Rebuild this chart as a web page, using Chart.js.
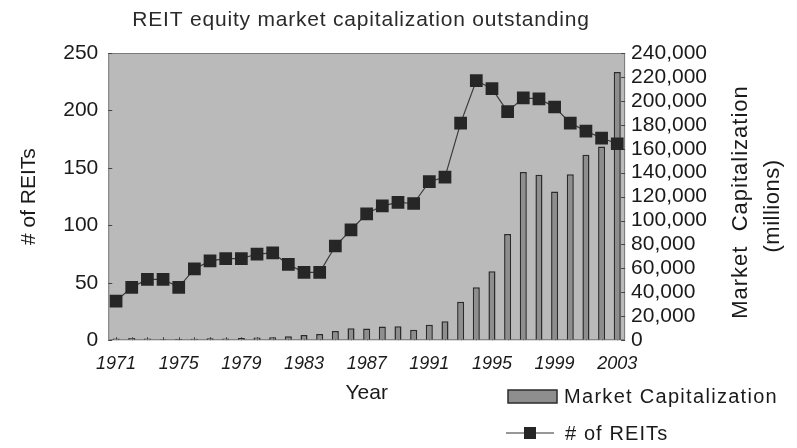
<!DOCTYPE html>
<html>
<head>
<meta charset="utf-8">
<script src="https://cdn.jsdelivr.net/npm/chart.js@4.4.1/dist/chart.umd.min.js"></script>
<style>
  html, body { margin: 0; padding: 0; background: #fff; }
  #wrap { width: 797px; height: 448px; position: relative; }
</style>
</head>
<body>
<div id="wrap"><canvas id="reitChart" width="797" height="448"></canvas></div>
<script>
// REIT equity market capitalization, 1971-2003
const years = [
  '1971', '1972', '1973', '1974', '1975', '1976', '1977', '1978', '1979', '1980', '1981',
  '1982', '1983', '1984', '1985', '1986', '1987', '1988', '1989', '1990', '1991', '1992',
  '1993', '1994', '1995', '1996', '1997', '1998', '1999', '2000', '2001', '2002', '2003'
];
const reitCount = [
  34, 46, 53, 53, 46, 62, 69, 71, 71, 75, 76,
  66, 59, 59, 82, 96, 110, 117, 120, 119, 138, 142,
  189, 226, 219, 199, 211, 210, 203, 189, 182, 176, 171
];
const marketCap = [
  1494, 1881, 1394, 712, 900, 1308, 1528, 1412, 1754, 2299, 2439,
  3299, 4257, 5085, 7674, 9924, 9702, 11435, 11662, 8737, 12968, 15912,
  32159, 44306, 57541, 88776, 140534, 138301, 124262, 138715, 154899, 161937, 224212
];
const leftTicks = [0, 50, 100, 150, 200, 250];
const rightTicks = [0, 20000, 40000, 60000, 80000, 100000, 120000, 140000, 160000, 180000, 200000, 220000, 240000];

const FONT = 'Arial, "Liberation Sans", Helvetica, sans-serif';
const INK = '#1a1a1a';
const BAR_FILL = '#8e8e8e';
const BAR_EDGE = '#2b2b2b';
const MARK = '#262626';

function spacedText(ctx, text, x, y, spacing) {
  // letterSpacing is not in every canvas build, so just skip it if missing
  if ('letterSpacing' in ctx) ctx.letterSpacing = spacing + 'px';
  ctx.fillText(text, x, y);
  if ('letterSpacing' in ctx) ctx.letterSpacing = '0px';
}

const decorPlugin = {
  id: 'decor',
  beforeDatasetsDraw(chart) {
    const { ctx, chartArea: a } = chart;
    ctx.save();
    ctx.fillStyle = '#bababa';
    ctx.fillRect(a.left, a.top, a.right - a.left, a.bottom - a.top);
    ctx.strokeStyle = '#7a7a7a';
    ctx.lineWidth = 1;
    ctx.strokeRect(a.left + 0.5, a.top + 0.5, a.right - a.left - 1, a.bottom - a.top - 1);

    // small inward tick marks on both value axes
    ctx.strokeStyle = '#444';
    const yl = chart.scales.y, yr = chart.scales.y1;
    leftTicks.forEach(v => {
      const py = Math.round(yl.getPixelForValue(v)) + 0.5;
      ctx.beginPath(); ctx.moveTo(a.left, py); ctx.lineTo(a.left + 4, py); ctx.stroke();
    });
    rightTicks.forEach(v => {
      const py = Math.round(yr.getPixelForValue(v)) + 0.5;
      ctx.beginPath(); ctx.moveTo(a.right - 4, py); ctx.lineTo(a.right, py); ctx.stroke();
    });
    const xs = chart.scales.x;
    years.forEach((_, i) => {
      const px = Math.round(xs.getPixelForValue(i)) + 0.5;
      ctx.beginPath(); ctx.moveTo(px, a.bottom); ctx.lineTo(px, a.bottom - 3); ctx.stroke();
    });
    ctx.restore();
  },
  afterDraw(chart) {
    const { ctx } = chart;
    ctx.save();
    ctx.fillStyle = '#2a2a2a';
    ctx.textAlign = 'center';
    ctx.textBaseline = 'middle';

    // title
    ctx.font = '21px ' + FONT;
    spacedText(ctx, 'REIT equity market capitalization outstanding', 361, 20, 0.8);

    // right axis title, reads bottom to top
    ctx.fillStyle = INK;
    ctx.font = '22px ' + FONT;
    ctx.save();
    ctx.translate(741, 202);
    ctx.rotate(-Math.PI / 2);
    spacedText(ctx, 'Market  Capitalization', 0, 0, 1);
    ctx.restore();
    ctx.save();
    ctx.translate(773, 206);
    ctx.rotate(-Math.PI / 2);
    spacedText(ctx, '(millions)', 0, 0, 0.5);
    ctx.restore();

    // legend
    ctx.textAlign = 'left';
    ctx.font = '20px ' + FONT;
    ctx.fillStyle = BAR_FILL;
    ctx.fillRect(508, 390, 49, 13);
    ctx.strokeStyle = BAR_EDGE;
    ctx.lineWidth = 1.5;
    ctx.strokeRect(508, 390, 49, 13);
    ctx.fillStyle = INK;
    spacedText(ctx, 'Market Capitalization', 564, 397, 1.3);

    ctx.strokeStyle = '#333';
    ctx.lineWidth = 1.2;
    ctx.beginPath(); ctx.moveTo(506, 433); ctx.lineTo(554, 433); ctx.stroke();
    ctx.fillStyle = MARK;
    ctx.fillRect(524, 427, 12, 12);
    ctx.fillStyle = INK;
    spacedText(ctx, '# of REITs', 565, 434, 1.1);
    ctx.restore();
  }
};

const ctx = document.getElementById('reitChart').getContext('2d');
new Chart(ctx, {
  type: 'bar',
  data: {
    labels: years,
    datasets: [
      {
        type: 'line',
        label: '# of REITs',
        data: reitCount,
        yAxisID: 'y',
        borderColor: '#3a3a3a',
        borderWidth: 1.2,
        pointStyle: 'rect',
        pointRadius: 9,
        pointBackgroundColor: MARK,
        pointBorderColor: MARK,
        pointBorderWidth: 0,
        tension: 0,
        order: 0
      },
      {
        type: 'bar',
        label: 'Market Capitalization',
        data: marketCap,
        yAxisID: 'y1',
        backgroundColor: BAR_FILL,
        borderColor: BAR_EDGE,
        borderWidth: 1.5,
        categoryPercentage: 1,
        barPercentage: 0.45,
        order: 1
      }
    ]
  },
  options: {
    responsive: false,
    devicePixelRatio: 1,
    animation: false,
    layout: { padding: { top: 53, right: 84, bottom: 42, left: 17 } },
    plugins: {
      legend: { display: false },
      title: { display: false },
      tooltip: { enabled: false }
    },
    scales: {
      x: {
        offset: true,
        grid: { display: false, drawTicks: false },
        border: { display: false },
        ticks: {
          autoSkip: false,
          maxRotation: 0,
          padding: 13,
          color: INK,
          font: { family: FONT, size: 18, style: 'italic' },
          callback: (v, i) => (i % 4 === 0 ? years[i] : '')
        },
        title: {
          display: true,
          text: 'Year',
          color: INK,
          font: { family: FONT, size: 21 },
          padding: { top: -7, bottom: 0 }
        }
      },
      y: {
        position: 'left',
        min: 0,
        max: 250,
        afterBuildTicks: s => { s.ticks = leftTicks.map(v => ({ value: v })); },
        grid: { drawOnChartArea: false, drawTicks: false },
        border: { display: false },
        ticks: {
          autoSkip: false,
          padding: 10,
          color: INK,
          font: { family: FONT, size: 21 }
        },
        title: {
          display: true,
          text: '# of REITs',
          color: INK,
          font: { family: FONT, size: 21 },
          padding: { top: 0, bottom: 11 }
        }
      },
      y1: {
        position: 'right',
        min: 0,
        max: 240000,
        afterBuildTicks: s => { s.ticks = rightTicks.map(v => ({ value: v })); },
        grid: { drawOnChartArea: false, drawTicks: false },
        border: { display: false },
        ticks: {
          autoSkip: false,
          padding: 6,
          color: INK,
          font: { family: FONT, size: 21 },
          callback: v => v.toLocaleString('en-US')
        }
      }
    }
  },
  plugins: [decorPlugin]
});
</script>
</body>
</html>
